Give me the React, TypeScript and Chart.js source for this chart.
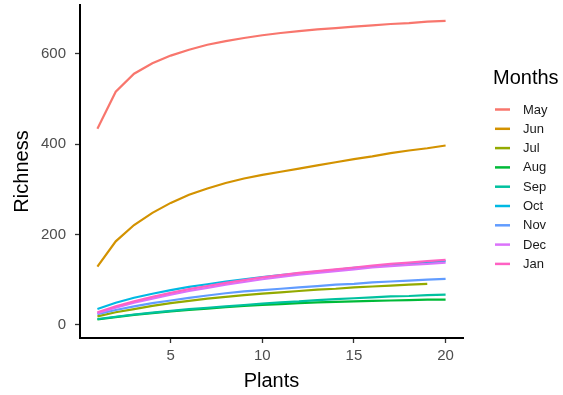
import React, { useEffect, useRef } from "react";
import { Chart, registerables } from "chart.js";

Chart.register(...registerables);

const plants = [1, 2, 3, 4, 5, 6, 7, 8, 9, 10, 11, 12, 13, 14, 15, 16, 17, 18, 19, 20];
const months = ["May", "Jun", "Jul", "Aug", "Sep", "Oct", "Nov", "Dec", "Jan"];
const colors = ["#F8766D", "#D39200", "#93AA00", "#00BA38", "#00C19F", "#00B9E3", "#619CFF", "#DB72FB", "#FF61C3"];

const may = [434, 516, 556, 579, 596, 609, 620, 628, 635, 641, 646, 650, 654, 657, 660, 663, 666, 668, 671, 673];
const jun = [129, 185, 221, 248, 270, 288, 302, 314, 324, 332, 339, 346, 353, 360, 367, 373, 380, 386, 391, 397];
const jul = [19, 28, 35, 42, 48, 53, 58, 62, 66, 69, 72, 75, 78, 80, 83, 85, 87, 89, 91];
const aug = [12, 17, 22, 26, 30, 33, 36, 39, 42, 44, 46, 48, 50, 51, 52, 53, 54, 55, 56, 56];
const sep = [13, 18, 23, 27, 31, 35, 38, 41, 44, 47, 50, 52, 55, 57, 59, 61, 63, 64, 66, 67];
const oct = [35, 49, 60, 69, 77, 84, 90, 96, 101, 106, 110, 114, 118, 122, 126, 129, 132, 135, 138, 141];
const nov = [24, 33, 41, 48, 54, 60, 65, 70, 74, 77, 80, 83, 86, 89, 91, 94, 96, 98, 100, 102];
const dec = [26, 38, 49, 58, 67, 75, 82, 89, 95, 101, 106, 111, 115, 119, 123, 127, 130, 133, 135, 138];
const jan = [28, 41, 52, 62, 71, 79, 86, 93, 99, 105, 110, 115, 119, 123, 127, 131, 135, 138, 141, 144];

const seriesValues = [may, jun, jul, aug, sep, oct, nov, dec, jan];
const xTicks = [5, 10, 15, 20];
const yTicks = [0, 200, 400, 600];

const FONT = "'Liberation Sans', Arial, sans-serif";

const legendPlugin = {
  id: "ggLegend",
  afterDraw(chart: any) {
    const ctx = chart.ctx;
    ctx.save();
    ctx.fillStyle = "#000";
    ctx.font = `20px ${FONT}`;
    ctx.textBaseline = "middle";
    ctx.textAlign = "left";
    ctx.fillText("Months", 493, 78);
    ctx.font = `13px ${FONT}`;
    months.forEach((m, i) => {
      const y = 109.5 + i * 19.3;
      ctx.strokeStyle = colors[i];
      ctx.lineWidth = 2.5;
      ctx.beginPath();
      ctx.moveTo(495, y);
      ctx.lineTo(510, y);
      ctx.stroke();
      ctx.fillStyle = "#1a1a1a";
      ctx.fillText(m, 523, y + 0.5);
    });
    ctx.restore();
  },
};

export default function App() {
  const ref = useRef<HTMLCanvasElement | null>(null);
  useEffect(() => {
    if (!ref.current) return;
    const chart = new Chart(ref.current, {
      type: "line",
      data: {
        datasets: months.map((m, i) => ({
          label: m,
          data: seriesValues[i].map((v, j) => ({ x: plants[j], y: v })),
          borderColor: colors[i],
          backgroundColor: colors[i],
          borderWidth: 2.2,
          pointRadius: 0,
          tension: 0,
          fill: false,
          order: 8 - i,
        })),
      },
      options: {
        animation: false,
        responsive: false,
        maintainAspectRatio: false,
        layout: { padding: { top: 5, right: 100, left: 0, bottom: 0 } },
        plugins: { legend: { display: false }, tooltip: { enabled: false } },
        scales: {
          x: {
            type: "linear",
            min: 0.05,
            max: 20.95,
            afterBuildTicks: (s: any) => {
              s.ticks = xTicks.map((v) => ({ value: v }));
            },
            afterFit: (s: any) => {
              s.height = 57;
              s.paddingLeft = 0;
              s.paddingRight = 0;
            },
            grid: { display: true, drawOnChartArea: false, drawTicks: true, tickLength: 5, tickWidth: 1.3, tickColor: "#333" },
            border: { display: true, color: "#000", width: 2 },
            ticks: { color: "#4D4D4D", font: { family: FONT, size: 15 }, padding: 4, maxRotation: 0, autoSkip: false },
            title: { display: true, text: "Plants", color: "#000", font: { family: FONT, size: 20 }, padding: { top: 0, bottom: 2 } },
          },
          y: {
            type: "linear",
            min: -29,
            max: 708,
            afterBuildTicks: (s: any) => {
              s.ticks = yTicks.map((v) => ({ value: v }));
            },
            afterFit: (s: any) => {
              s.width = 80;
              s.paddingTop = 0;
              s.paddingBottom = 0;
            },
            grid: { display: true, drawOnChartArea: false, drawTicks: true, tickLength: 5, tickWidth: 1.3, tickColor: "#333" },
            border: { display: true, color: "#000", width: 2 },
            ticks: { color: "#4D4D4D", font: { family: FONT, size: 15 }, padding: 9, autoSkip: false },
            title: { display: true, text: "Richness", color: "#000", font: { family: FONT, size: 20 }, padding: { top: 10, bottom: 0 } },
          },
        },
      },
      plugins: [legendPlugin],
    });
    return () => chart.destroy();
  }, []);
  return (
    <div style={{ position: "absolute", left: 0, top: 0, width: 563, height: 395, background: "#fff" }}>
      <canvas ref={ref} width={563} height={395} style={{ display: "block" }} />
    </div>
  );
}
